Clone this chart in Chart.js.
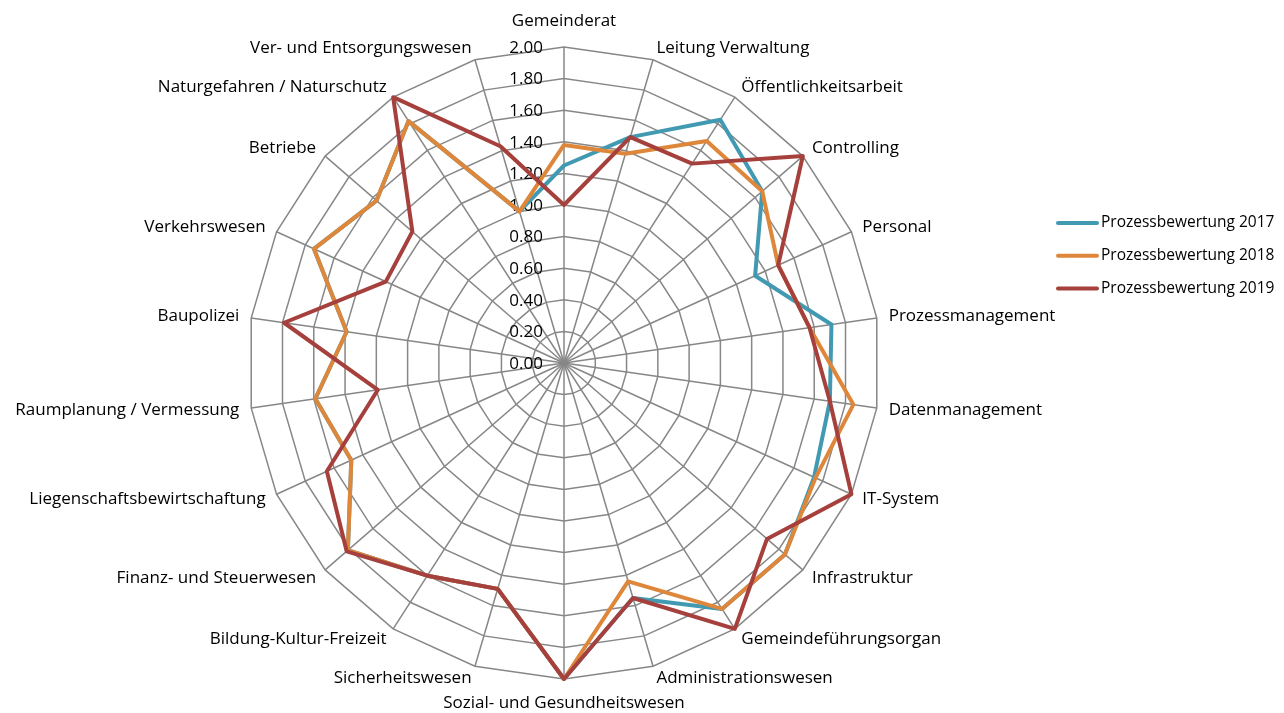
<!DOCTYPE html>
<html>
<head>
<meta charset="utf-8">
<script src="https://cdn.jsdelivr.net/npm/chart.js@4.4.1/dist/chart.umd.min.js"></script>
<style>
html,body{margin:0;padding:0;background:#ffffff;}
#wrap{width:1284px;height:713px;position:relative;}
canvas{display:block;}
</style>
</head>
<body>
<div id="wrap"><canvas id="c" width="1284" height="713"></canvas></div>
<script>
const categories = [
  'Gemeinderat', 'Leitung Verwaltung', 'Öffentlichkeitsarbeit', 'Controlling', 'Personal',
  'Prozessmanagement', 'Datenmanagement', 'IT-System', 'Infrastruktur', 'Gemeindeführungsorgan',
  'Administrationswesen', 'Sozial- und Gesundheitswesen', 'Sicherheitswesen', 'Bildung-Kultur-Freizeit',
  'Finanz- und Steuerwesen', 'Liegenschaftsbewirtschaftung', 'Raumplanung / Vermessung', 'Baupolizei',
  'Verkehrswesen', 'Betriebe', 'Naturgefahren / Naturschutz', 'Ver- und Entsorgungswesen'
];
const seriesNames = ['Prozessbewertung 2017', 'Prozessbewertung 2018', 'Prozessbewertung 2019'];
const values2017 = [1.25, 1.49, 1.83, 1.66, 1.33, 1.71, 1.70, 1.74, 1.85, 1.85, 1.55, 2.00, 1.49, 1.60, 1.81, 1.48, 1.59, 1.39, 1.74, 1.57, 1.82, 1.00];
const values2018 = [1.38, 1.38, 1.67, 1.66, 1.49, 1.57, 1.85, 1.75, 1.85, 1.85, 1.44, 2.00, 1.49, 1.60, 1.81, 1.48, 1.59, 1.39, 1.74, 1.57, 1.82, 1.00];
const values2019 = [1.00, 1.49, 1.50, 2.00, 1.49, 1.57, 1.70, 2.00, 1.70, 2.00, 1.55, 2.00, 1.49, 1.60, 1.82, 1.65, 1.19, 1.79, 1.24, 1.27, 2.00, 1.43];
const tickValues = [0, 0.2, 0.4, 0.6, 0.8, 1.0, 1.2, 1.4, 1.6, 1.8, 2.0];
const tickLabels = ['0.00', '0.20', '0.40', '0.60', '0.80', '1.00', '1.20', '1.40', '1.60', '1.80', '2.00'];

const colors = ['#4299B2', '#DE873B', '#A5403C'];
const FONT = '"Open Sans", "Noto Sans", sans-serif';

const labelPlugin = {
  id: 'customLabels',
  beforeDatasetsDraw(chart) {
    const s = chart.scales.r;
    const ctx = chart.ctx;
    ctx.save();
    ctx.fillStyle = '#000';
    ctx.font = '17px ' + FONT;
    ctx.textAlign = 'right';
    ctx.textBaseline = 'middle';
    tickValues.forEach((v, k) => {
      const d = s.getDistanceFromCenterForValue(v);
      ctx.fillText(tickLabels[k], s.xCenter - 21, s.yCenter - d + 1);
    });
    categories.forEach((lab, i) => {
      const p = s.getPointPosition(i, s.drawingArea + 12);
      let deg = s.getIndexAngle(i) * 180 / Math.PI;
      deg = ((deg % 360) + 360) % 360;
      let align = 'left', dy = 0;
      if (deg < 1 || deg > 359) { align = 'center'; dy = -14; }
      else if (Math.abs(deg - 180) < 1) { align = 'center'; dy = 12; }
      else if (deg > 180) { align = 'right'; }
      ctx.textAlign = align;
      ctx.fillText(lab, p.x, p.y + dy);
    });
    ctx.restore();
  },
  afterDraw(chart) {
    const ctx = chart.ctx;
    ctx.save();
    ctx.font = '15.5px ' + FONT;
    ctx.textBaseline = 'middle';
    ctx.textAlign = 'left';
    seriesNames.forEach((name, k) => {
      const y = 223 + k * 32.7;
      ctx.strokeStyle = colors[k];
      ctx.lineWidth = 4;
      ctx.lineCap = 'round';
      ctx.beginPath();
      ctx.moveTo(1058, y);
      ctx.lineTo(1097, y);
      ctx.stroke();
      ctx.fillStyle = '#000';
      ctx.fillText(name, 1101, y);
    });
    ctx.restore();
  }
};

const seriesValues = [values2017, values2018, values2019];
const datasets = seriesNames.map((name, k) => ({
  label: name,
  data: seriesValues[k],
  borderColor: colors[k],
  backgroundColor: colors[k],
  borderWidth: 4,
  borderJoinStyle: 'round',
  borderCapStyle: 'round',
  pointRadius: 0,
  pointHoverRadius: 0,
  fill: false,
  tension: 0,
  order: 3 - k
}));

new Chart(document.getElementById('c'), {
  type: 'radar',
  data: { labels: categories, datasets: datasets },
  options: {
    responsive: false,
    animation: false,
    devicePixelRatio: 1,
    layout: { padding: { left: 248, right: 404, top: 47, bottom: 34 } },
    plugins: {
      legend: { display: false },
      tooltip: { enabled: false }
    },
    scales: {
      r: {
        min: 0,
        max: 2,
        ticks: { display: false, stepSize: 0.2 },
        pointLabels: { display: false },
        grid: { color: '#878787', lineWidth: 1.5, circular: false },
        angleLines: { color: '#878787', lineWidth: 1.5 }
      }
    }
  },
  plugins: [labelPlugin]
});
</script>
</body>
</html>
